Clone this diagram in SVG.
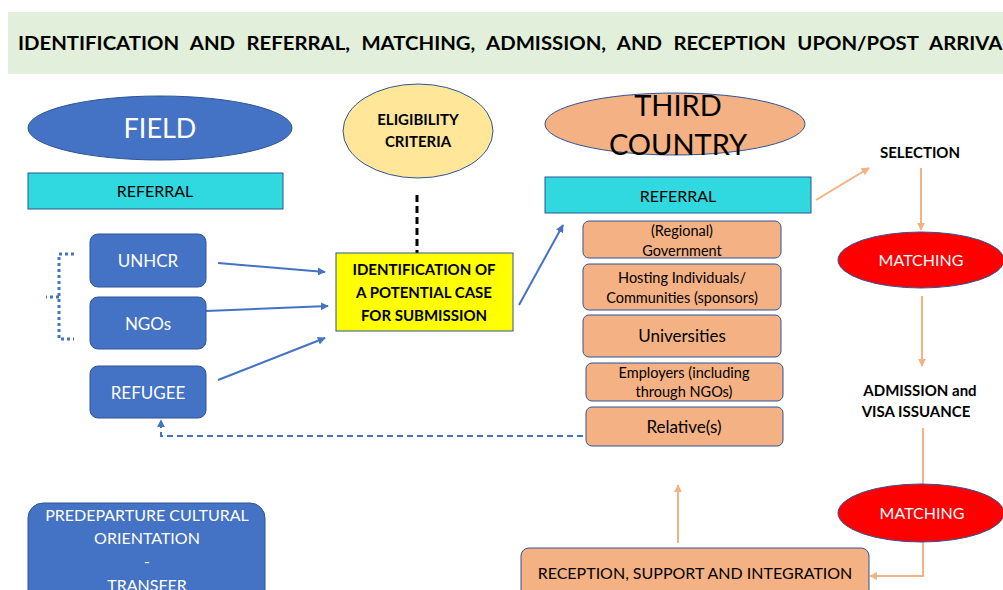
<svg xmlns="http://www.w3.org/2000/svg" width="1003" height="590" viewBox="0 0 1003 590">
<style>
text{font-family:Lato,"Open Sans","Liberation Sans",sans-serif;text-anchor:middle}
.blue{fill:#4472c4;stroke:#2f5597;stroke-width:1}
.wt{fill:#ffffff}
.bk{fill:#000000}
.b{font-weight:bold}
.org{fill:#f4b183;stroke:#2f5597;stroke-width:1}
.cyan{fill:#2fd9df;stroke:#2f5597;stroke-width:1}
.red{fill:#ff0000;stroke:#2f5597;stroke-width:1}
.ba{stroke:#4472c4;stroke-width:2;fill:none}
.oa{stroke:#f4b183;stroke-width:2;fill:none}
</style>
<defs>
<marker id="ah" viewBox="0 0 10 10" refX="9" refY="5" markerWidth="4" markerHeight="4" orient="auto"><path d="M0,0 L10,5 L0,10 z" fill="#4472c4"/></marker>
<marker id="oh" viewBox="0 0 10 10" refX="9" refY="5" markerWidth="4" markerHeight="4" orient="auto"><path d="M0,0 L10,5 L0,10 z" fill="#f4b183"/></marker>
</defs>
<rect width="1003" height="590" fill="#ffffff"/>
<g id="header">
<rect x="8" y="12" width="1000" height="62" fill="#e2efda"/>
<text x="18" y="50" class="bk b" style="text-anchor:start;font-size:19px;word-spacing:6px" textLength="995" lengthAdjust="spacingAndGlyphs">IDENTIFICATION AND REFERRAL, MATCHING, ADMISSION, AND RECEPTION UPON/POST ARRIVAL</text>
</g>
<g id="connectors">
<line x1="417" y1="195" x2="417" y2="253" stroke="#000" stroke-width="3" stroke-dasharray="7,4"/>
<line x1="218" y1="263" x2="325" y2="272" class="ba" marker-end="url(#ah)"/>
<line x1="206" y1="311" x2="328" y2="306" class="ba" marker-end="url(#ah)"/>
<line x1="218" y1="380" x2="325" y2="338" class="ba" marker-end="url(#ah)"/>
<line x1="519" y1="305" x2="563" y2="225" class="ba" marker-end="url(#ah)"/>
<path d="M583,436 L161,436 L161,420" class="ba" stroke-dasharray="6,4" marker-end="url(#ah)"/>
<path d="M74,254 L59,254 L59,339 L74,339 M59,297 L46,297" stroke="#4472c4" stroke-width="3" fill="none" stroke-dasharray="3,3"/>
<line x1="816" y1="200" x2="869" y2="168" class="oa" marker-end="url(#oh)"/>
<line x1="921" y1="168" x2="921" y2="230" class="oa" marker-end="url(#oh)"/>
<line x1="922" y1="296" x2="922" y2="366" class="oa" marker-end="url(#oh)"/>
<line x1="923" y1="428" x2="923" y2="486" class="oa"/>
<path d="M923,542 L923,576 L870,576" class="oa" marker-end="url(#oh)"/>
<line x1="678" y1="543" x2="678" y2="485" class="oa" marker-end="url(#oh)"/>
</g>
<g id="field">
<ellipse cx="160" cy="128" rx="132" ry="32" class="blue"/>
<text x="160" y="138" class="wt" style="font-size:27px">FIELD</text>
</g>
<g id="eligibility">
<ellipse cx="418" cy="131" rx="75" ry="47" fill="#ffe699" stroke="#2f5597"/>
<text x="418" y="125" class="bk b" style="font-size:15px">ELIGIBILITY</text>
<text x="418" y="147" class="bk b" style="font-size:15px">CRITERIA</text>
</g>
<g id="identification">
<rect x="336" y="253" width="177" height="78" fill="#ffff00" stroke="#2f5597"/>
<text x="424" y="275" class="bk b" style="font-size:15px">IDENTIFICATION OF</text>
<text x="424" y="298" class="bk b" style="font-size:15px">A POTENTIAL CASE</text>
<text x="424" y="321" class="bk b" style="font-size:15px">FOR SUBMISSION</text>
</g>
<g id="referral-left">
<rect x="28" y="173" width="255" height="36" class="cyan"/>
<text x="155" y="197" class="bk" style="font-size:16px">REFERRAL</text>
</g>
<g id="unhcr">
<rect x="90" y="234" width="116" height="53" rx="8" class="blue"/>
<text x="148" y="267" class="wt" style="font-size:17px">UNHCR</text>
</g>
<g id="ngos">
<rect x="90" y="297" width="116" height="52" rx="8" class="blue"/>
<text x="148" y="330" class="wt" style="font-size:17px">NGOs</text>
</g>
<g id="refugee">
<rect x="90" y="366" width="116" height="52" rx="8" class="blue"/>
<text x="148" y="399" class="wt" style="font-size:17px">REFUGEE</text>
</g>
<g id="third-country">
<ellipse cx="675" cy="124" rx="130" ry="31" class="org"/>
<text x="678" y="116" class="bk" style="font-size:29px">THIRD</text>
<text x="678" y="155" class="bk" style="font-size:29px">COUNTRY</text>
</g>
<g id="referral-right">
<rect x="545" y="177" width="266" height="36" class="cyan"/>
<text x="678" y="202" class="bk" style="font-size:16px">REFERRAL</text>
</g>
<g id="government">
<rect x="583" y="221" width="198" height="37" rx="6" class="org"/>
<text x="682" y="236" class="bk" style="font-size:14.5px">(Regional)</text>
<text x="682" y="256" class="bk" style="font-size:14.5px">Government</text>
</g>
<g id="hosting">
<rect x="583" y="264" width="198" height="46" rx="6" class="org"/>
<text x="682" y="283" class="bk" style="font-size:14.5px">Hosting Individuals/</text>
<text x="682" y="303" class="bk" style="font-size:14.5px">Communities (sponsors)</text>
</g>
<g id="universities">
<rect x="583" y="315" width="198" height="42" rx="6" class="org"/>
<text x="682" y="342" class="bk" style="font-size:17px">Universities</text>
</g>
<g id="employers">
<rect x="586" y="363" width="197" height="38" rx="6" class="org"/>
<text x="684" y="378" class="bk" style="font-size:14.5px">Employers (including</text>
<text x="684" y="397" class="bk" style="font-size:14.5px">through NGOs)</text>
</g>
<g id="relatives">
<rect x="586" y="407" width="197" height="39" rx="6" class="org"/>
<text x="684" y="433" class="bk" style="font-size:17px">Relative(s)</text>
</g>
<g id="selection">
<text x="920" y="158" class="bk b" style="font-size:15px">SELECTION</text>
</g>
<g id="matching1">
<ellipse cx="921" cy="260" rx="83" ry="28" class="red"/>
<text x="921" y="266" class="wt" style="font-size:16px">MATCHING</text>
</g>
<g id="admission">
<text x="920" y="396" class="bk b" style="font-size:15px">ADMISSION and</text>
<text x="916" y="417" class="bk b" style="font-size:15px">VISA ISSUANCE</text>
</g>
<g id="matching2">
<ellipse cx="921" cy="513" rx="83" ry="29" class="red"/>
<text x="922" y="519" class="wt" style="font-size:16px">MATCHING</text>
</g>
<g id="reception">
<rect x="521" y="548" width="348" height="60" rx="8" class="org"/>
<text x="695" y="579" class="bk" style="font-size:16px">RECEPTION, SUPPORT AND INTEGRATION</text>
</g>
<g id="predeparture">
<rect x="28" y="503" width="237" height="110" rx="15" class="blue"/>
<text x="147" y="521" class="wt" style="font-size:16px">PREDEPARTURE CULTURAL</text>
<text x="147" y="544" class="wt" style="font-size:16px">ORIENTATION</text>
<text x="147" y="567" class="wt" style="font-size:16px">-</text>
<text x="147" y="591" class="wt" style="font-size:16px">TRANSFER</text>
</g>
</svg>
